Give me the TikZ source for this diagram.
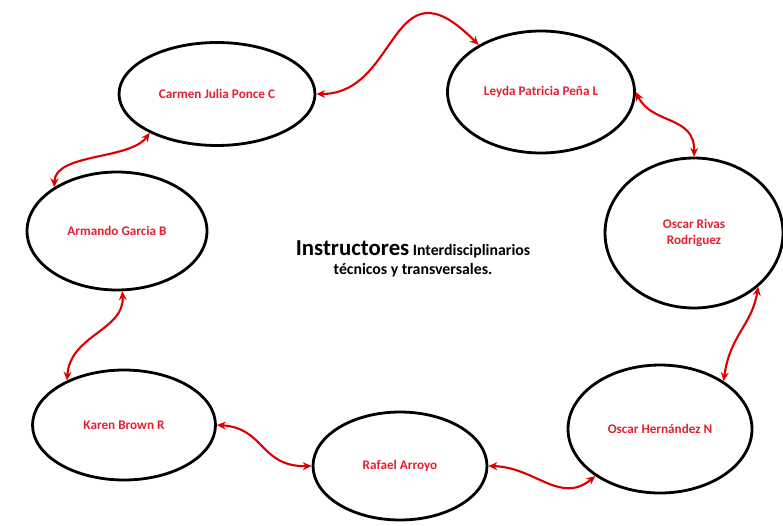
\documentclass[tikz,border=0pt]{standalone}
\usepackage{fontspec}
\setmainfont{Carlito}
\usepackage{tikz}
\usetikzlibrary{arrows.meta}
\usetikzlibrary{shapes.geometric}
\usepackage{xcolor}
\definecolor{namered}{RGB}{226,32,48}
\definecolor{linkred}{RGB}{222,0,0}

\begin{document}
\begin{tikzpicture}[x=0.02cm, y=0.02cm,
	person/.style={ellipse, draw=black, line width=1.6pt, inner sep=0pt,
		text=namered, font=\fontsize{7.5}{9}\selectfont\bfseries, align=center},
	link/.style={linkred, line width=1.2pt,
		{Stealth[length=5pt,width=4.5pt]}-{Stealth[length=5pt,width=4.5pt]}}]
	% page
	\useasboundingbox (0,0) rectangle (783,525);
	% instructors
	\node [person, minimum width=3.92cm, minimum height=2.06cm] (carmen) at (217,431) {Carmen Julia Ponce C};
	\node [person, minimum width=3.74cm, minimum height=2.44cm] (leyda) at (541,433) {Leyda Patricia Peña L};
	\node [person, minimum width=3.6cm, minimum height=2.36cm] (armando) at (117,294) {Armando Garcia B};
	\node [person, minimum width=3.56cm, minimum height=3.0cm] (rivas) at (694,292) {Oscar Rivas\\Rodriguez};
	\node [person, minimum width=3.66cm, minimum height=2.2cm] (karen) at (124,100) {Karen Brown R};
	\node [person, minimum width=3.48cm, minimum height=2.16cm] (rafael) at (400,59) {Rafael Arroyo};
	\node [person, minimum width=3.68cm, minimum height=2.56cm] (hernandez) at (660,96) {Oscar Hernández N};
	% title
	\node [align=center, font=\fontsize{9}{10.5}\selectfont\bfseries] (title) at (413,266)
		{{\fontsize{13}{15}\selectfont Instructores} Interdisciplinarios\\técnicos y transversales.};
	% links
	\draw [link] (carmen.east) .. controls (400,431) and (390,570) .. (leyda.143);
	\draw [link] (leyda.east) .. controls (652,400) and (695,410) .. (rivas.north);
	\draw [link] (carmen.210) .. controls (130,365) and (55,372) .. (armando.145);
	\draw [link] (armando.-85) .. controls (125,195) and (70,190) .. (karen.142);
	\draw [link] (karen.east) .. controls (265,97) and (260,58) .. (rafael.west);
	\draw [link] (rafael.east) .. controls (535,58) and (560,20) .. (hernandez.216);
	\draw [link] (hernandez.37) .. controls (730,190) and (752,200) .. (rivas.-40);
\end{tikzpicture}
\end{document}
